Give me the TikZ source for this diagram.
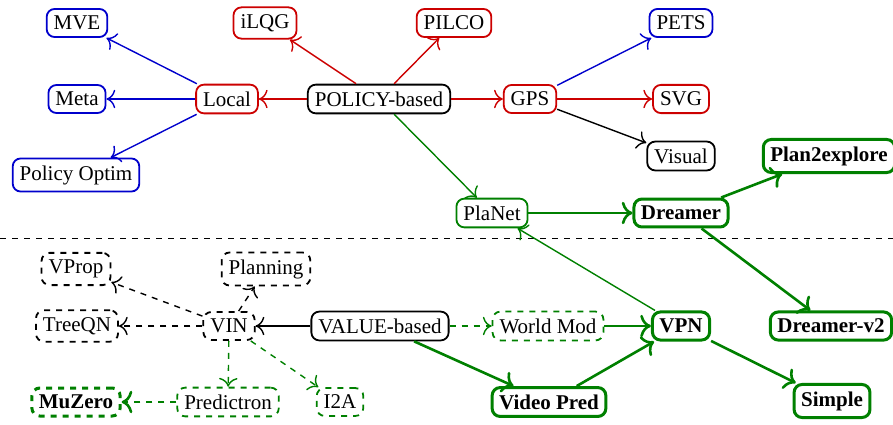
\documentclass[tikz,border=0pt]{standalone}
\usepackage{fontspec}
\setmainfont{Liberation Serif}
\usepackage{tikz}
\usetikzlibrary{arrows,arrows.meta,%
                shapes,positioning}

\colorlet{polblue}{blue!80!black}
\colorlet{polred}{red!80!black}
\colorlet{mbgreen}{green!50!black}

\tikzset{box/.style={draw, rounded corners=4pt, line width=0.9pt, inner sep=3.5pt,
                     font=\fontsize{10.5}{12}\selectfont},
         edge/.style={-{To[scale=1.4]}, line width=0.7pt},
         bigedge/.style={-{To[scale=1.2]}, line width=1.3pt, mbgreen},
         bluebox/.style={box, draw=polblue},
         redbox/.style={box, draw=polred},
         dashbox/.style={box, dashed},
         greenbox/.style={box, draw=mbgreen},
         greendash/.style={box, draw=mbgreen, dashed},
         boldbox/.style={box, draw=mbgreen, line width=1.5pt, font=\fontsize{10.5}{12}\selectfont\bfseries}}

\begin{document}
\begin{tikzpicture}[x=0.5pt,y=0.5pt]
\useasboundingbox (0,0) rectangle (893,424);
% policy-based half
\node[box] (policy) at (379,325) {POLICY-based};
\node[redbox] (local) at (227,325) {Local};
\node[bluebox] (mve) at (77,401) {MVE};
\node[bluebox] (meta) at (77,325) {Meta};
\node[bluebox] (optim) at (76,249) {Policy Optim};
\node[redbox] (ilqg) at (265,401) {iLQG};
\node[redbox] (pilco) at (454,401) {PILCO};
\node[redbox] (gps) at (530,325) {GPS};
\node[bluebox] (pets) at (681,401) {PETS};
\node[redbox] (svg) at (681,325) {SVG};
\node[box] (visual) at (681,268) {Visual};
\node[greenbox] (planet) at (492,211) {PlaNet};
\node[boldbox] (dreamer) at (681,211) {Dreamer};
\node[boldbox] (p2e) at (829,268) {Plan2explore};
% value-based half
\node[box] (value) at (380,98) {VALUE-based};
\node[dashbox] (vin) at (229,98) {VIN};
\node[dashbox] (vprop) at (76,155) {VProp};
\node[dashbox] (planning) at (266,155) {Planning};
\node[dashbox] (treeqn) at (77,98) {TreeQN};
\node[greendash] (predictron) at (228,22) {Predictron};
\node[greendash] (iia) at (340,22) {I2A};
\node[boldbox, dashed] (muzero) at (76,22) {MuZero};
\node[greendash] (worldmod) at (548,98) {World Mod};
\node[boldbox] (vpn) at (681,98) {VPN};
\node[boldbox] (videopred) at (549,22) {Video Pred};
\node[boldbox] (dreamertwo) at (831,98) {Dreamer-v2};
\node[boldbox] (simple) at (832,23) {Simple};
\coordinate (sepl) at (0,186);
\coordinate (sepr) at (893,186);
\draw[dashed] (sepl) -- (sepr);
\draw[edge, polblue] (local) -- (mve);
\draw[edge, polblue] (local) -- (meta);
\draw[edge, polblue] (local) -- (optim);
\draw[edge, polred] (policy) -- (local);
\draw[edge, polred] (policy) -- (ilqg);
\draw[edge, polred] (policy) -- (pilco);
\draw[edge, polred] (policy) -- (gps);
\draw[edge, polblue] (gps) -- (pets);
\draw[edge, polred] (gps) -- (svg);
\draw[edge] (gps) -- (visual);
\draw[edge, mbgreen] (policy) -- (planet);
\draw[bigedge] (planet) -- (dreamer);
\draw[bigedge] (dreamer) -- (p2e);
\draw[bigedge] (dreamer) -- (dreamertwo);
\draw[edge, mbgreen] (vpn) -- (planet);
\draw[edge] (value) -- (vin);
\draw[edge, dashed] (vin) -- (vprop);
\draw[edge, dashed] (vin) -- (planning);
\draw[edge, dashed] (vin) -- (treeqn);
\draw[edge, mbgreen, dashed] (vin) -- (predictron);
\draw[edge, mbgreen, dashed] (vin) -- (iia);
\draw[bigedge, dashed] (predictron) -- (muzero);
\draw[edge, mbgreen, dashed] (value) -- (worldmod);
\draw[bigedge] (worldmod) -- (vpn);
\draw[bigedge] (value) -- (videopred);
\draw[bigedge] (videopred) -- (vpn);
\draw[bigedge] (vpn) -- (simple);
\end{tikzpicture}
\end{document}
